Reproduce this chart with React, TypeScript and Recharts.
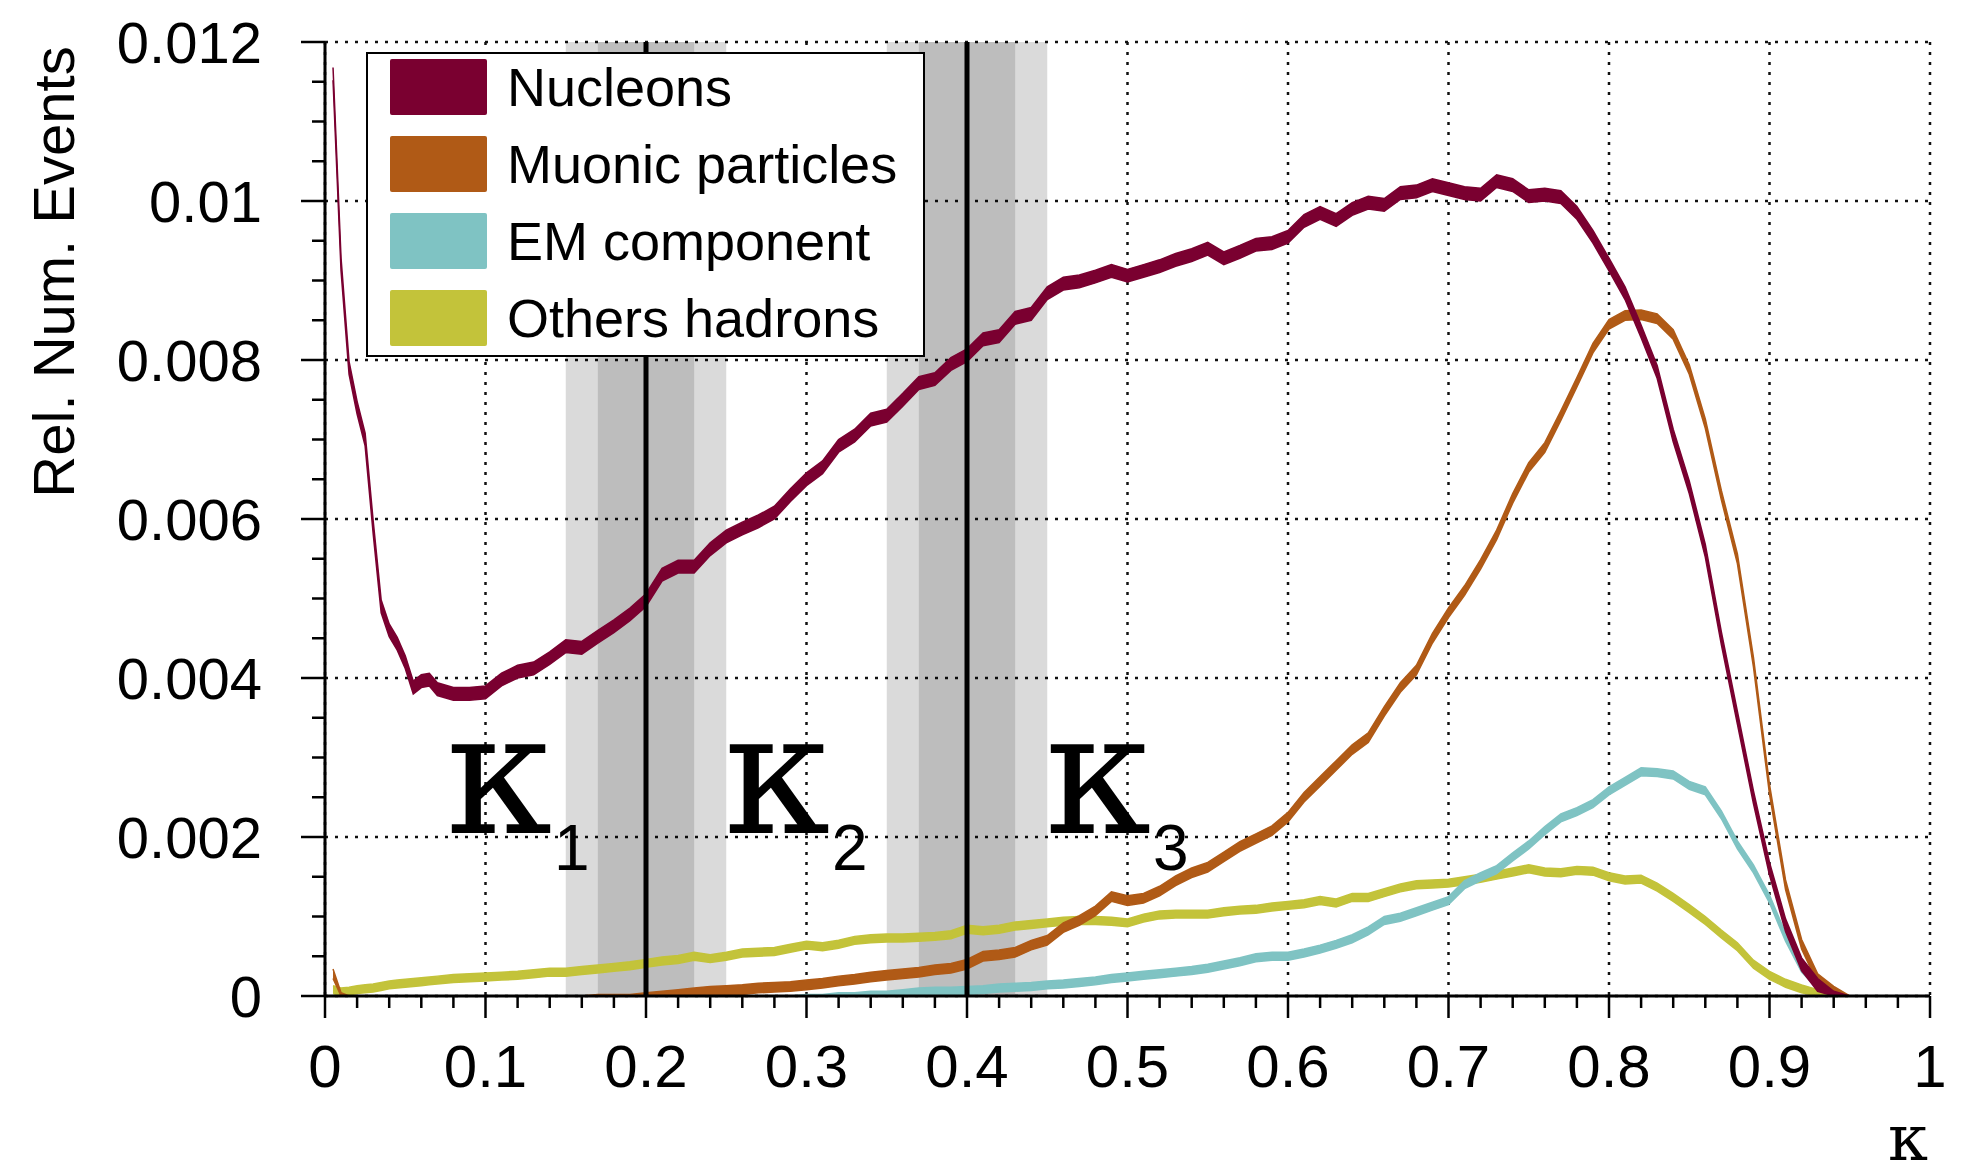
import { ComposedChart, Area, Scatter, XAxis, YAxis, CartesianGrid, ReferenceArea, ReferenceLine, Legend } from 'recharts'

// kappa sampling (fine steps near 0 where the nucleon curve drops fast)
const KAPPA = [
  0.005, 0.01, 0.015, 0.02, 0.025, 0.03, 0.035, 0.04, 0.045, 0.05, 0.055, 0.06, 0.065, 0.07,
  0.08, 0.09, 0.1, 0.11, 0.12, 0.13, 0.14, 0.15, 0.16, 0.17, 0.18, 0.19,
  0.2, 0.21, 0.22, 0.23, 0.24, 0.25, 0.26, 0.27, 0.28, 0.29,
  0.3, 0.31, 0.32, 0.33, 0.34, 0.35, 0.36, 0.37, 0.38, 0.39,
  0.4, 0.41, 0.42, 0.43, 0.44, 0.45, 0.46, 0.47, 0.48, 0.49,
  0.5, 0.51, 0.52, 0.53, 0.54, 0.55, 0.56, 0.57, 0.58, 0.59,
  0.6, 0.61, 0.62, 0.63, 0.64, 0.65, 0.66, 0.67, 0.68, 0.69,
  0.7, 0.71, 0.72, 0.73, 0.74, 0.75, 0.76, 0.77, 0.78, 0.79,
  0.8, 0.81, 0.82, 0.83, 0.84, 0.85, 0.86, 0.87, 0.88, 0.89,
  0.9, 0.91, 0.92, 0.93, 0.94, 0.95,
]

const NUCLEONS = [
  0.0116, 0.0092, 0.0079, 0.0074, 0.007, 0.0059, 0.0049, 0.0046, 0.00443, 0.0042, 0.00388, 0.00396, 0.00398, 0.00386,
  0.0038, 0.0038, 0.00382, 0.00398, 0.00408, 0.00412, 0.00425, 0.0044, 0.00438, 0.00452, 0.00465, 0.0048,
  0.00498, 0.0053, 0.0054, 0.0054, 0.00562, 0.00578, 0.00588, 0.00597, 0.00608, 0.0063,
  0.0065, 0.00665, 0.00692, 0.00705, 0.00725, 0.0073, 0.0075, 0.00771, 0.00776, 0.00795,
  0.00806, 0.00826, 0.0083, 0.00853, 0.00858, 0.00884, 0.00896, 0.00899, 0.00905, 0.00912,
  0.00906, 0.00912, 0.00918, 0.00926, 0.00932, 0.0094, 0.00928, 0.00936, 0.00945, 0.00947,
  0.00955, 0.00975, 0.00985, 0.00976, 0.0099, 0.00998, 0.00995, 0.0101, 0.01012, 0.0102,
  0.01015, 0.0101, 0.01008, 0.01025, 0.0102, 0.01006, 0.01008, 0.01005, 0.00985, 0.00955,
  0.0092, 0.00884, 0.00836, 0.00785, 0.00705, 0.0064, 0.0056, 0.0045, 0.0035, 0.0025,
  0.0016, 0.00089, 0.0004, 0.00014, 0.00003, 0,
]

const MUONIC = [
  0.00028, 0.00002, 0, 0, 0, 0, 0, 0, 0, 0, 0, 0, 0, 0,
  0, 0, 0, 0, 0, 0, 0, 0, 0, 0.00001, 0.00001, 0.00001,
  0.00002, 0.00003, 0.00004, 0.00005, 0.00006, 0.00007, 0.00008, 0.0001, 0.00011, 0.00012,
  0.00014, 0.00016, 0.00019, 0.00021, 0.00024, 0.00026, 0.00028, 0.0003, 0.00033, 0.00035,
  0.0004, 0.0005, 0.00052, 0.00055, 0.00064, 0.0007, 0.00086, 0.00095, 0.00107, 0.00125,
  0.0012, 0.00123, 0.00132, 0.00145, 0.00155, 0.00162, 0.00175, 0.00188, 0.00198, 0.00208,
  0.00225, 0.0025, 0.0027, 0.0029, 0.0031, 0.00325, 0.00358, 0.00388, 0.0041, 0.0045,
  0.00482, 0.0051, 0.00543, 0.0058, 0.00626, 0.00665, 0.0069, 0.0073, 0.00772, 0.00815,
  0.00845, 0.00856, 0.00857, 0.00852, 0.00832, 0.00788, 0.0072, 0.0063, 0.0055, 0.0042,
  0.0026, 0.0014, 0.00065, 0.00022, 0.00006, 0,
]

const EM_COMPONENT = [
  0, 0, 0, 0, 0, 0, 0, 0, 0, 0, 0, 0, 0, 0,
  0, 0, 0, 0, 0, 0, 0, 0, 0, 0, 0, 0,
  0, 0, 0, 0, 0, 0, 0, 0, 0, 0,
  0.00001, 0.00001, 0.00002, 0.00002, 0.00003, 0.00003, 0.00004, 0.00005, 0.00006, 0.00006,
  0.00007, 0.00008, 0.0001, 0.00011, 0.00012, 0.00014, 0.00015, 0.00017, 0.00019, 0.00022,
  0.00024, 0.00026, 0.00028, 0.0003, 0.00032, 0.00035, 0.00039, 0.00043, 0.00048, 0.0005,
  0.0005, 0.00054, 0.00059, 0.00065, 0.00072, 0.00082, 0.00095, 0.00099, 0.00106, 0.00113,
  0.0012, 0.0014, 0.0015, 0.00159, 0.00175, 0.0019, 0.00208, 0.00224, 0.00232, 0.00242,
  0.00258, 0.0027, 0.00282, 0.00281, 0.00278, 0.00265, 0.00258, 0.00228, 0.0019, 0.0016,
  0.00122, 0.00074, 0.00035, 0.00014, 0.00004, 0,
]

const OTHER_HADRONS = [
  0.00008, 0.00005, 0.00006, 0.00008, 0.00009, 0.0001, 0.00012, 0.00014, 0.00015, 0.00016, 0.00017, 0.00018, 0.00019, 0.0002,
  0.00022, 0.00023, 0.00024, 0.00025, 0.00026, 0.00028, 0.0003, 0.0003, 0.00032, 0.00034, 0.00036, 0.00038,
  0.00041, 0.00044, 0.00046, 0.0005, 0.00047, 0.0005, 0.00054, 0.00055, 0.00056, 0.0006,
  0.00064, 0.00062, 0.00065, 0.0007, 0.00072, 0.00073, 0.00073, 0.00074, 0.00075, 0.00077,
  0.00084, 0.00082, 0.00084, 0.00088, 0.0009, 0.00092, 0.00094, 0.00095, 0.00095, 0.00094,
  0.00092, 0.00098, 0.00102, 0.00103, 0.00103, 0.00103, 0.00106, 0.00108, 0.00109, 0.00112,
  0.00114, 0.00116, 0.0012, 0.00117, 0.00124, 0.00124, 0.0013, 0.00136, 0.0014, 0.00141,
  0.00142, 0.00145, 0.00148, 0.00152, 0.00156, 0.0016, 0.00156, 0.00155, 0.00158, 0.00157,
  0.0015, 0.00146, 0.00147, 0.00137, 0.00124, 0.0011, 0.00095, 0.00078, 0.00062, 0.0004,
  0.00026, 0.00016, 0.00009, 0.00004, 0.00001, 0,
]

const SERIES = [
  { key: 'nucleons', name: 'Nucleons', color: '#7a0030', values: NUCLEONS, err: 0.00008 },
  { key: 'muonic', name: 'Muonic particles', color: '#b05a16', values: MUONIC, err: 0.00006 },
  { key: 'em', name: 'EM component', color: '#7fc3c3', values: EM_COMPONENT, err: 0.00005 },
  { key: 'others', name: 'Others hadrons', color: '#c3c33a', values: OTHER_HADRONS, err: 0.00005 },
]

const X_LABELS = ['0', '0.1', '0.2', '0.3', '0.4', '0.5', '0.6', '0.7', '0.8', '0.9', '1']
const X_MAJOR = [0, 0.1, 0.2, 0.3, 0.4, 0.5, 0.6, 0.7, 0.8, 0.9, 1]
const Y_LABELS = ['0', '0.002', '0.004', '0.006', '0.008', '0.01', '0.012']
const Y_MAJOR = [0, 0.002, 0.004, 0.006, 0.008, 0.01, 0.012]
const X_TICKS = Array.from({ length: 51 }, (_, i) => i * 0.02)
const Y_TICKS = Array.from({ length: 25 }, (_, i) => i * 0.0005)

// kappa cut values and their shaded ranges
const CUTS = [0.2, 0.4]
const CUT_OUTER = 0.05
const CUT_INNER = 0.03

const NOTE_K = [0.0754, 0.2486, 0.4486]
const NOTE_V = [0.00205, 0.00205, 0.00205]
const NOTE_SUB = ['1', '2', '3']

const SANS = "'Liberation Sans', Arial, sans-serif"
const SERIF = "'DejaVu Serif', serif"

const rows = KAPPA.map((k, i) => {
  const row: Record<string, any> = { k }
  SERIES.forEach((s) => {
    const v = s.values[i]
    const e = Math.min(s.err, v)
    row[s.key] = [Math.max(0, v - e), v + e]
  })
  return row
})

const notes = NOTE_K.map((k, i) => ({ k, v: NOTE_V[i], sub: NOTE_SUB[i] }))

function XTick(props: any) {
  const { x, y, index, side } = props
  const major = index % 5 === 0
  const dir = side === 'top' ? -1 : 1
  return (
    <g>
      <line x1={x} x2={x} y1={y} y2={y + dir * (major ? 22 : 12)} stroke="#000" strokeWidth={2.5} />
      {side === 'bottom' && major && (
        <text x={x} y={y + 91} textAnchor="middle" fontFamily={SANS} fontSize={60} fill="#000">
          {X_LABELS[index / 5]}
        </text>
      )}
    </g>
  )
}

function YTick(props: any) {
  const { x, y, index, side } = props
  const major = index % 4 === 0
  const dir = side === 'right' ? 1 : -1
  return (
    <g>
      <line x1={x} x2={x + dir * (major ? 24 : 13)} y1={y} y2={y} stroke="#000" strokeWidth={2.5} />
      {side === 'left' && major && (
        <text x={x - 63} y={y + 21} textAnchor="end" fontFamily={SANS} fontSize={58} fill="#000">
          {Y_LABELS[index / 4]}
        </text>
      )}
    </g>
  )
}

function KappaNote(props: any) {
  const { cx, cy, payload } = props
  return (
    <g>
      <text x={cx} y={cy} fontFamily={SERIF} fontSize={170} fill="#000">κ</text>
      <text x={cx + 108} y={cy + 37} fontFamily={SANS} fontSize={64} fill="#000">{payload.sub}</text>
    </g>
  )
}

function LegendBox() {
  return (
    <div
      style={{
        boxSizing: 'border-box',
        width: 559,
        height: 305,
        background: '#fff',
        border: '2.5px solid #000',
        padding: '5px 0 0 22px',
        fontFamily: SANS,
      }}
    >
      {SERIES.map((s) => (
        <div key={s.key} style={{ display: 'flex', alignItems: 'flex-start', height: 77 }}>
          <div style={{ width: 97, height: 56, background: s.color, borderRadius: 2 }} />
          <span style={{ marginLeft: 20, fontSize: 54, color: '#000', lineHeight: '56px' }}>{s.name}</span>
        </div>
      ))}
    </div>
  )
}

export default function App() {
  return (
    <div style={{ position: 'absolute', left: 0, top: 0, width: 1982, height: 1176, background: '#fff' }}>
      <ComposedChart width={1982} height={1176} data={rows} margin={{ top: 42, right: 52, bottom: 60, left: 25 }}>
        <XAxis
          dataKey="k"
          type="number"
          domain={[0, 1]}
          allowDataOverflow
          ticks={X_TICKS}
          interval={0}
          height={120}
          tickSize={0}
          tickMargin={0}
          tickLine={false}
          axisLine={{ stroke: '#000', strokeWidth: 3 }}
          tick={(p: any) => <XTick {...p} side="bottom" />}
          label={{
            content: (p: any) => (
              <text x={p.viewBox.x + p.viewBox.width - 42} y={1160} fontFamily={SERIF} fontSize={64} fill="#000">
                κ
              </text>
            ),
          }}
        />
        <XAxis
          xAxisId="top"
          orientation="top"
          type="number"
          domain={[0, 1]}
          allowDataOverflow
          ticks={X_TICKS}
          interval={0}
          height={0}
          tickSize={0}
          tickMargin={0}
          tickLine={false}
          axisLine={{ stroke: '#000', strokeWidth: 3 }}
          tick={(p: any) => <XTick {...p} side="top" />}
        />
        <YAxis
          type="number"
          domain={[0, 0.012]}
          allowDataOverflow
          ticks={Y_TICKS}
          interval={0}
          width={300}
          tickSize={0}
          tickMargin={0}
          tickLine={false}
          axisLine={{ stroke: '#000', strokeWidth: 3 }}
          tick={(p: any) => <YTick {...p} side="left" />}
          label={{
            content: (p: any) => (
              <text
                x={74}
                y={p.viewBox.y + 230}
                transform={`rotate(-90, 74, ${p.viewBox.y + 230})`}
                textAnchor="middle"
                fontFamily={SANS}
                fontSize={58}
                fill="#000"
              >
                Rel. Num. Events
              </text>
            ),
          }}
        />
        <YAxis
          yAxisId="right"
          orientation="right"
          type="number"
          domain={[0, 0.012]}
          allowDataOverflow
          ticks={Y_TICKS}
          interval={0}
          width={0}
          tickSize={0}
          tickMargin={0}
          tickLine={false}
          axisLine={{ stroke: '#000', strokeWidth: 3 }}
          tick={(p: any) => <YTick {...p} side="right" />}
        />
        <CartesianGrid
          horizontalValues={Y_MAJOR}
          verticalValues={X_MAJOR}
          stroke="#111"
          strokeWidth={2.5}
          strokeDasharray="3 7"
        />
        {CUTS.map((c) => (
          <ReferenceArea key={`o${c}`} x1={c - CUT_OUTER} x2={c + CUT_OUTER} y1={0} y2={0.012} fill="#000" fillOpacity={0.145} stroke="none" />
        ))}
        {CUTS.map((c) => (
          <ReferenceArea key={`i${c}`} x1={c - CUT_INNER} x2={c + CUT_INNER} y1={0} y2={0.012} fill="#000" fillOpacity={0.128} stroke="none" />
        ))}
        {CUTS.map((c) => (
          <ReferenceLine key={`l${c}`} x={c} stroke="#000" strokeWidth={5} />
        ))}
        {[...SERIES].reverse().map((s) => (
          <Area
            key={s.key}
            name={s.name}
            dataKey={s.key}
            type="linear"
            stroke={s.color}
            strokeWidth={1.5}
            fill={s.color}
            fillOpacity={1}
            isAnimationActive={false}
            dot={false}
            activeDot={false}
          />
        ))}
        <Scatter data={notes} dataKey="v" shape={KappaNote} isAnimationActive={false} />
        <Legend
          layout="vertical"
          align="center"
          verticalAlign="middle"
          wrapperStyle={{ position: 'absolute', left: 366, top: 52, width: 559, height: 305 }}
          content={() => <LegendBox />}
        />
      </ComposedChart>
    </div>
  )
}
